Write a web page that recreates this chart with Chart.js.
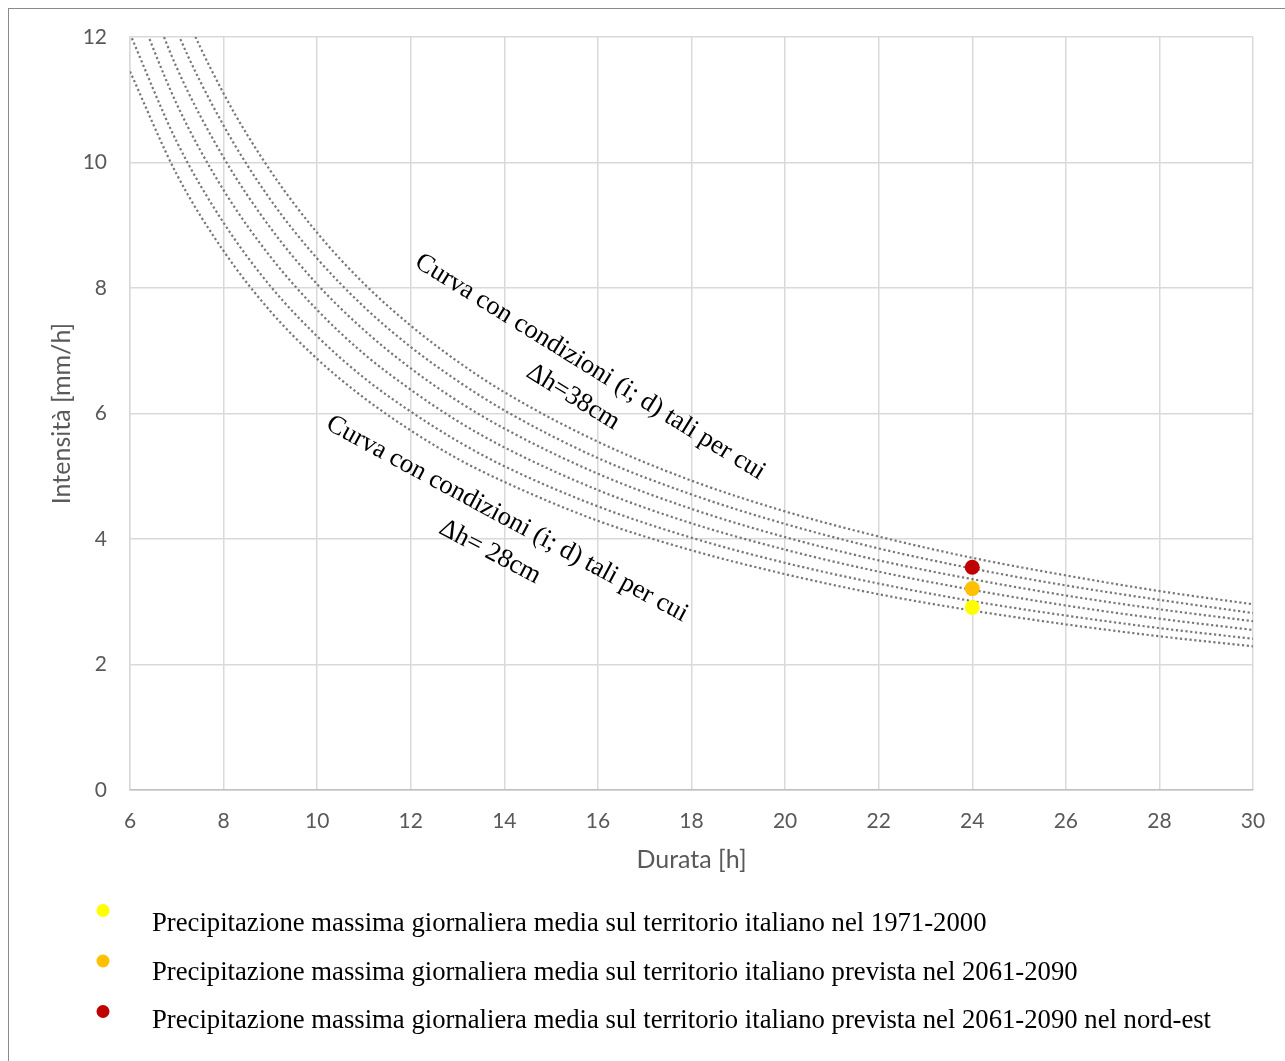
<!DOCTYPE html>
<html>
<head>
<meta charset="utf-8">
<script src="https://cdn.jsdelivr.net/npm/chart.js@4"></script>
<style>
  html, body { margin: 0; padding: 0; background: #fff; }
  canvas { display: block; }
</style>
</head>
<body>
<canvas id="chart" width="1285" height="1061"></canvas>
<script>
// durations [h] and intensities [mm/h]
const durations = [6, 7, 8, 9, 10, 11, 12, 13, 14, 16, 18, 20, 22, 24, 26, 28, 30];
const curve1 = [11.45, 9.81, 8.59, 7.63, 6.87, 6.25, 5.73, 5.28, 4.91, 4.29, 3.82, 3.44, 3.12, 2.86, 2.64, 2.45, 2.29];
const curve2 = [12.05, 10.33, 9.04, 8.03, 7.23, 6.57, 6.03, 5.56, 5.16, 4.52, 4.02, 3.62, 3.29, 3.01, 2.78, 2.58, 2.41];
const curve3 = [12.75, 10.93, 9.56, 8.50, 7.65, 6.95, 6.38, 5.88, 5.46, 4.78, 4.25, 3.83, 3.48, 3.19, 2.94, 2.73, 2.55];
const curve4 = [13.43, 11.51, 10.08, 8.96, 8.06, 7.33, 6.72, 6.20, 5.76, 5.04, 4.48, 4.03, 3.66, 3.36, 3.10, 2.88, 2.69];
const curve5 = [14.12, 12.10, 10.59, 9.41, 8.47, 7.70, 7.06, 6.52, 6.05, 5.29, 4.71, 4.24, 3.85, 3.53, 3.26, 3.03, 2.82];
const curve6 = [14.80, 12.69, 11.10, 9.87, 8.88, 8.07, 7.40, 6.83, 6.34, 5.55, 4.93, 4.44, 4.04, 3.70, 3.42, 3.17, 2.96];
const curves = [curve1, curve2, curve3, curve4, curve5, curve6];

const pointLabels = [
  "Precipitazione massima giornaliera media sul territorio italiano nel 1971-2000",
  "Precipitazione massima giornaliera media sul territorio italiano prevista nel 2061-2090",
  "Precipitazione massima giornaliera media sul territorio italiano prevista nel 2061-2090 nel nord-est",
];
const pointDurations = [24, 24, 24];
const pointIntensities = [2.91, 3.21, 3.55];
const pointColors = ["#ffff00", "#ffc000", "#c00000"];

const xTicks = [6, 8, 10, 12, 14, 16, 18, 20, 22, 24, 26, 28, 30];
const yTicks = [0, 2, 4, 6, 8, 10, 12];

const curveNotes = [
  { text: "Curva con condizioni (i; d) tali per cui", x: 590, y: 367, angle: 31.8 },
  { text: "\u0394h=38cm", x: 573, y: 397, angle: 31.5 },
  { text: "Curva con condizioni (i; d) tali per cui", x: 507, y: 519, angle: 28.4 },
  { text: "\u0394h= 28cm", x: 490, y: 552, angle: 27.6 },
];

const datasets = [];
pointLabels.forEach((label, i) => {
  datasets.push({
    label: label,
    data: [{ x: pointDurations[i], y: pointIntensities[i] }],
    showLine: false,
    pointRadius: 7.5,
    pointBackgroundColor: pointColors[i],
    pointBorderWidth: 0,
    order: 1,
    isPoint: true,
  });
});
curves.forEach((c, k) => {
  datasets.push({
    label: "curva " + (k + 1),
    data: durations.map((d, i) => ({ x: d, y: c[i] })),
    showLine: true,
    borderColor: "#777777",
    borderWidth: 2.2,
    borderDash: [2.2, 2.6],
    pointRadius: 0,
    cubicInterpolationMode: "monotone",
    fill: false,
    order: 2,
  });
});

const frame = {
  id: "frame",
  beforeDraw(chart) {
    const ctx = chart.ctx;
    ctx.save();
    ctx.fillStyle = "#fff";
    ctx.fillRect(0, 0, chart.width, chart.height);
    ctx.strokeStyle = "#8a8a8a";
    ctx.lineWidth = 1;
    ctx.strokeRect(8.5, 8.5, chart.width + 10, chart.height + 10);
    ctx.restore();
  },
};

const notes = {
  id: "notes",
  afterDatasetsDraw(chart) {
    const ctx = chart.ctx;
    ctx.save();
    ctx.fillStyle = "#000";
    ctx.font = "26.5px 'Liberation Serif', 'Times New Roman', serif";
    ctx.textAlign = "center";
    ctx.textBaseline = "middle";
    curveNotes.forEach((n) => {
      ctx.save();
      ctx.translate(n.x, n.y);
      ctx.rotate((n.angle * Math.PI) / 180);
      ctx.fillText(n.text, 0, 0);
      ctx.restore();
    });
    ctx.restore();
  },
};

const pointLegend = {
  id: "pointLegend",
  afterDraw(chart) {
    const ctx = chart.ctx;
    ctx.save();
    ctx.font = "26.7px 'Liberation Serif', 'Times New Roman', serif";
    ctx.textBaseline = "alphabetic";
    ctx.textAlign = "left";
    chart.data.datasets.filter((d) => d.isPoint).forEach((d, i) => {
      ctx.fillStyle = d.pointBackgroundColor;
      ctx.beginPath();
      ctx.arc(103, 910.5 + i * 50.5, 6.5, 0, Math.PI * 2);
      ctx.fill();
      ctx.fillStyle = "#000";
      ctx.fillText(d.label, 152, 931 + i * 48.5);
    });
    ctx.restore();
  },
};

new Chart(document.getElementById("chart").getContext("2d"), {
  type: "scatter",
  data: { datasets: datasets },
  plugins: [frame, notes, pointLegend],
  options: {
    responsive: false,
    animation: false,
    layout: { padding: { top: 37, right: 32, bottom: 0, left: 0 } },
    plugins: { legend: { display: false }, tooltip: { enabled: false } },
    scales: {
      x: {
        type: "linear",
        min: 6,
        max: 30,
        afterBuildTicks: (s) => { s.ticks = xTicks.map((v) => ({ value: v })); },
        afterFit: (s) => { s.height = 271; },
        grid: { color: "#d9d9d9", lineWidth: 1.5, drawTicks: false },
        border: { color: "#bfbfbf", width: 1.5 },
        ticks: { padding: 19, color: "#595959", font: { family: "Lato", size: 21 } },
        title: {
          display: true,
          text: "Durata [h]",
          color: "#595959",
          font: { family: "Lato", size: 25 },
          padding: { top: 0, bottom: 186 },
        },
      },
      y: {
        min: 0,
        max: 12,
        afterBuildTicks: (s) => { s.ticks = yTicks.map((v) => ({ value: v })); },
        afterFit: (s) => { s.width = 130; },
        grid: { color: "#d9d9d9", lineWidth: 1.5, drawTicks: false },
        border: { color: "#d9d9d9", width: 1.5 },
        ticks: { padding: 23, color: "#595959", font: { family: "Lato", size: 21 } },
        title: {
          display: true,
          text: "Intensità [mm/h]",
          color: "#595959",
          font: { family: "Lato", size: 25 },
          padding: { top: 47, bottom: 0 },
        },
      },
    },
  },
});
</script>
</body>
</html>
